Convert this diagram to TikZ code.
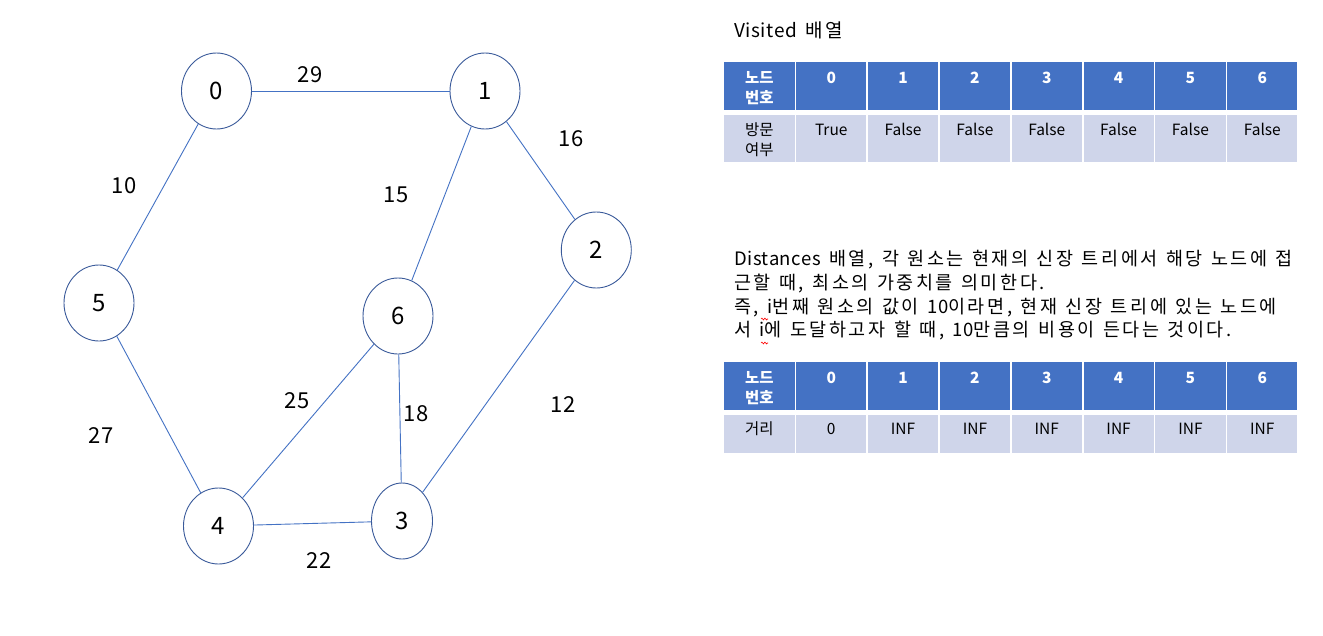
\documentclass[tikz,border=0pt]{standalone}
\usepackage{fontspec}
\setmainfont{Noto Sans CJK KR}
\newfontfamily\parafont[LetterSpace=14,WordSpace=1.25]{Noto Sans CJK KR}
\newfontfamily\parlat[LetterSpace=3,WordSpace=1.25]{Noto Sans CJK KR}
\newcommand\lt[1]{{\parlat #1}}
\usetikzlibrary{shapes.geometric,decorations.pathmorphing}
\definecolor{edgeblue}{HTML}{4472C4}
\definecolor{nodeline}{HTML}{3A5A9A}
\definecolor{hdrblue}{HTML}{4472C4}
\definecolor{rowfill}{HTML}{CFD5EA}
\tikzset{
  gnode/.style={ellipse, draw=nodeline, line width=0.9pt, fill=white, inner sep=0pt,
    minimum width=70pt, minimum height=76pt, font=\fontsize{24}{28}\selectfont},
  edge/.style={edgeblue, line width=0.9pt},
  wlabel/.style={font=\fontsize{22}{26}\selectfont, inner sep=0pt},
  hcell/.style={fill=hdrblue, draw=none},
  rcell/.style={fill=rowfill, draw=none},
  htext/.style={text=white, font=\fontsize{15.5}{20}\selectfont\bfseries, inner sep=0pt, align=center},
  rtext/.style={text=black, font=\fontsize{15.5}{20}\selectfont, inner sep=0pt, align=center},
  para/.style={anchor=west, inner sep=0pt, font=\fontsize{18.5}{22}\selectfont\parafont},
  squig/.style={red, line width=0.6pt, decorate, decoration={snake, amplitude=0.9pt, segment length=3pt}}
}
\begin{document}
\begin{tikzpicture}[x=1pt,y=-1pt]
\fill[white] (0,0) rectangle (1323,635);
\useasboundingbox (0,0) rectangle (1323,635);

% graph nodes
\node[gnode] (n0) at (216.5,91) {0};
\node[gnode] (n1) at (485,91) {1};
\node[gnode] (n2) at (596.3,250) {2};
\node[gnode, minimum width=61pt] (n3) at (402,521) {3};
\node[gnode] (n4) at (218.5,526) {4};
\node[gnode] (n5) at (99,303) {5};
\node[gnode] (n6) at (398,316) {6};

% edges
\draw[edge] (n0) -- (n1);
\draw[edge] (n0) -- (n5);
\draw[edge] (n1) -- (n6);
\draw[edge] (n1) -- (n2);
\draw[edge] (n2) -- (n3);
\draw[edge] (n6) -- (n3);
\draw[edge] (n6) -- (n4);
\draw[edge] (n5) -- (n4);
\draw[edge] (n4) -- (n3);

% weights
\node[wlabel] (w01) at (310,75) {29};
\node[wlabel] (w05) at (124,186) {10};
\node[wlabel] (w16) at (396,195) {15};
\node[wlabel] (w12) at (571,139) {16};
\node[wlabel] (w23) at (563,405) {12};
\node[wlabel] (w63) at (416,414) {18};
\node[wlabel] (w64) at (297,401) {25};
\node[wlabel] (w54) at (101,436) {27};
\node[wlabel] (w43) at (319,561) {22};

% title
\node[para, font=\fontsize{19}{22}\selectfont\parafont] (title) at (734,30) {\lt{Visited} 배열};

% table cells
\foreach \i in {0,...,7} {
  \pgfmathsetmacro{\xa}{724.3+71.84*\i}
  \pgfmathsetmacro{\xb}{724.3+71.84*(\i+1)-1.6}
  \fill[hcell] (\xa,62.3) rectangle (\xb,110);
  \fill[rcell] (\xa,114.5) rectangle (\xb,162.3);
  \fill[hcell] (\xa,362.3) rectangle (\xb,410);
  \fill[rcell] (\xa,414.5) rectangle (\xb,453.3);
}
% visited table text
\node[htext] (v-h0a) at (759.4,77) {노드};
\node[htext] (v-h0b) at (759.4,97.5) {번호};
\node[rtext] (v-r0a) at (759.4,129.5) {방문};
\node[rtext] (v-r0b) at (759.4,150) {여부};
\foreach \i/\v in {1/True,2/False,3/False,4/False,5/False,6/False,7/False} {
  \pgfmathsetmacro{\xc}{724.3+71.84*\i+35.1}
  \node[htext] (vh\i) at (\xc,78) {\pgfmathparse{int(\i-1)}\pgfmathresult};
  \node[rtext] (vr\i) at (\xc,129.5) {\v};
}

% paragraph
\node[para] (p1) at (734,260) {\lt{Distances} 배열, 각 원소는 현재의 신장 트리에서 해당 노드에 접};
\node[para] (p2) at (734,284) {근할 때, 최소의 가중치를 의미한다.};
\node[para] (p3) at (734,307.5) {즉, \lt{i}번째 원소의 값이 \lt{10}이라면, 현재 신장 트리에 있는 노드에};
\node[para] (p4) at (734,331) {서 \lt{i}에 도달하고자 할 때, \lt{10}만큼의 비용이 든다는 것이다.};
\draw[squig] (761,319) -- (768,319);
\draw[squig] (761,343) -- (768,343);

% distances table text
\node[htext] (d-h0a) at (759.4,377) {노드};
\node[htext] (d-h0b) at (759.4,397.5) {번호};
\node[rtext] (d-r0) at (759.4,429) {거리};
\foreach \i/\v in {1/0,2/INF,3/INF,4/INF,5/INF,6/INF,7/INF} {
  \pgfmathsetmacro{\xc}{724.3+71.84*\i+35.1}
  \node[htext] (dh\i) at (\xc,378) {\pgfmathparse{int(\i-1)}\pgfmathresult};
  \node[rtext] (dr\i) at (\xc,429) {\v};
}
\end{tikzpicture}
\end{document}
